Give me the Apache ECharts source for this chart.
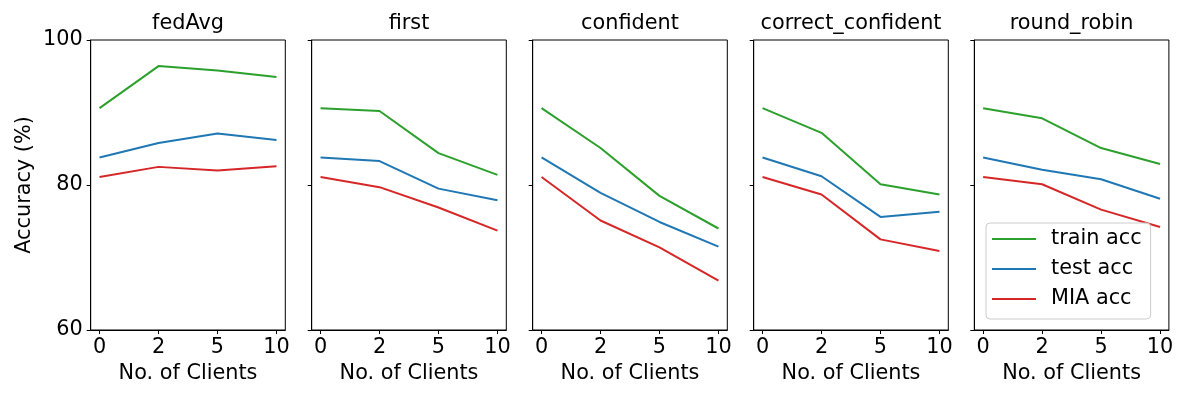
<!DOCTYPE html>
<html>
<head>
<meta charset="utf-8">
<script src="https://cdn.jsdelivr.net/npm/echarts@6/dist/echarts.min.js"></script>
<style>
  html, body { margin: 0; padding: 0; background: #fff; }
  #chart { width: 1200px; height: 400px; }
</style>
</head>
<body>
<div id="chart"></div>
<script>
// ---- data ----
const categories = ['0', '2', '5', '10'];
const panelTitles = ['fedAvg', 'first', 'confident', 'correct_confident', 'round_robin'];
const seriesNames = ['train acc', 'test acc', 'MIA acc'];
const yTicks = [60, 80, 100];

const fedAvgTrain = [90.6, 96.4, 95.8, 94.9];
const fedAvgTest  = [83.8, 85.8, 87.1, 86.2];
const fedAvgMIA   = [81.1, 82.5, 82.0, 82.6];

const firstTrain = [90.6, 90.2, 84.4, 81.4];
const firstTest  = [83.8, 83.3, 79.5, 77.9];
const firstMIA   = [81.1, 79.7, 76.9, 73.7];

const confidentTrain = [90.6, 85.1, 78.5, 74.0];
const confidentTest  = [83.8, 78.9, 74.9, 71.5];
const confidentMIA   = [81.1, 75.1, 71.4, 66.8];

const correctConfidentTrain = [90.6, 87.2, 80.1, 78.7];
const correctConfidentTest  = [83.8, 81.2, 75.6, 76.3];
const correctConfidentMIA   = [81.1, 78.7, 72.5, 70.9];

const roundRobinTrain = [90.6, 89.2, 85.1, 82.9];
const roundRobinTest  = [83.8, 82.1, 80.8, 78.1];
const roundRobinMIA   = [81.1, 80.1, 76.6, 74.2];

const panelData = [
  [fedAvgTrain, fedAvgTest, fedAvgMIA],
  [firstTrain, firstTest, firstMIA],
  [confidentTrain, confidentTest, confidentMIA],
  [correctConfidentTrain, correctConfidentTest, correctConfidentMIA],
  [roundRobinTrain, roundRobinTest, roundRobinMIA]
];

// ---- layout / style ----
const colors = ['#2ca02c', '#1f77b4', '#d62728'];
const FONT = 'DejaVu Sans';
const FS = 20.8;
const gridLefts = [90.7, 311.7, 532.7, 753.7, 974.3];
const gridW = 194.6, gridTop = 40, gridH = 290;
const catIdx = categories.map((c, i) => i);

const grids = [], xAxes = [], yAxes = [], series = [], graphics = [];
gridLefts.forEach((left, g) => {
  grids.push({ left: left, top: gridTop, width: gridW, height: gridH, show: true,
    borderColor: '#000', borderWidth: 1, backgroundColor: 'transparent', containLabel: false });
  xAxes.push({
    gridIndex: g, type: 'value', min: -0.15, max: 3.15, position: 'bottom',
    axisLine: { show: true, onZero: false, lineStyle: { color: '#000', width: 1 } },
    splitLine: { show: false },
    axisTick: { show: true, customValues: catIdx, length: 4, lineStyle: { color: '#000', width: 1 } },
    axisLabel: { show: true, customValues: catIdx, margin: 7, color: '#000',
      fontFamily: FONT, fontSize: FS, formatter: v => categories[Math.round(v)] }
  });
  yAxes.push({
    gridIndex: g, type: 'value', min: 60, max: 100, interval: 20, position: 'left',
    axisLine: { show: true, onZero: false, lineStyle: { color: '#000', width: 1 } },
    splitLine: { show: false },
    axisTick: { show: true, length: 4, lineStyle: { color: '#000', width: 1 } },
    axisLabel: { show: g === 0, margin: 8, color: '#000', fontFamily: FONT, fontSize: FS }
  });
  panelData[g].forEach((vals, s) => {
    series.push({
      name: seriesNames[s], type: 'line', xAxisIndex: g, yAxisIndex: g,
      data: vals.map((v, i) => [catIdx[i], v]),
      showSymbol: false, symbol: 'none', silent: true, animation: false,
      lineStyle: { color: colors[s], width: 2 }, itemStyle: { color: colors[s] }
    });
  });
  graphics.push({ type: 'text', x: left + gridW / 2, y: 24,
    style: { text: panelTitles[g], fill: '#000', font: FS + 'px "' + FONT + '"',
      textAlign: 'center', textVerticalAlign: 'middle' } });
  graphics.push({ type: 'text', x: left + gridW / 2, y: 374,
    style: { text: 'No. of Clients', fill: '#000', font: FS + 'px "' + FONT + '"',
      textAlign: 'center', textVerticalAlign: 'middle' } });
});
graphics.push({ type: 'text', x: 25, y: 185, rotation: Math.PI / 2,
  style: { text: 'Accuracy (%)', fill: '#000', font: FS + 'px "' + FONT + '"',
    textAlign: 'center', textVerticalAlign: 'middle' } });

const chart = echarts.init(document.getElementById('chart'));
chart.setOption({
  animation: false,
  backgroundColor: '#fff',
  grid: grids, xAxis: xAxes, yAxis: yAxes, series: series,
  graphic: graphics,
  legend: {
    data: seriesNames, orient: 'vertical', left: 986, top: 223,
    icon: 'rect', itemWidth: 44, itemHeight: 2, itemGap: 8,
    padding: [5, 9, 9, 6],
    backgroundColor: 'rgba(255,255,255,0.8)', borderColor: '#cccccc', borderWidth: 1, borderRadius: 4,
    textStyle: { color: '#000', fontFamily: FONT, fontSize: FS, padding: [0, 0, 0, 10], lineHeight: 22 },
    selectedMode: false
  }
});
</script>
</body>
</html>
